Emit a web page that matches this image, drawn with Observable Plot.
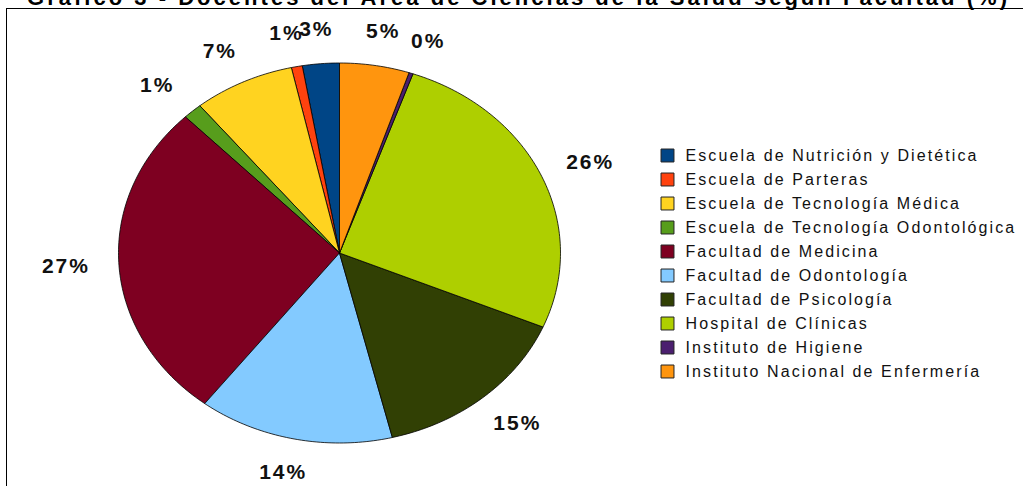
<!DOCTYPE html>
<html><head><meta charset="utf-8">
<script src="https://cdn.jsdelivr.net/npm/d3@7"></script>
<script src="https://cdn.jsdelivr.net/npm/@observablehq/plot@0.6"></script>
<style>
html,body{margin:0;padding:0;background:#fff;overflow:hidden;width:1023px;height:486px;}
#wrap{position:relative;width:1023px;height:486px;overflow:hidden;font-family:"Liberation Sans",Arial,sans-serif;}
#title{position:absolute;left:27px;top:-13.5px;font-size:22px;line-height:22px;font-weight:bold;white-space:nowrap;color:#000;}
#frame{position:absolute;left:6px;top:8px;width:2000px;height:1000px;border-left:1.5px solid #000;border-top:1.5px solid #000;}
#pie,#legend{position:absolute;top:0;}
#pie{left:0}
#legend{left:653px}
#pie text{letter-spacing:2px}
#legend text{letter-spacing:2.1px}
</style></head><body>
<div id="wrap"><div id="frame"></div><div id="title"></div><div id="pie"></div><div id="legend"></div></div>
<script>
const titleText = "Gráfico 3 - Docentes del Área de Ciencias de la Salud según Facultad (%)";
const categories = [
  "Escuela de Nutrición y Dietética",
  "Escuela de Parteras",
  "Escuela de Tecnología Médica",
  "Escuela de Tecnología Odontológica",
  "Facultad de Medicina",
  "Facultad de Odontología",
  "Facultad de Psicología",
  "Hospital de Clínicas",
  "Instituto de Higiene",
  "Instituto Nacional de Enfermería"
];
const values = [2.7, 0.8, 7.4, 1.4, 27.3, 14.3, 14.8, 26.0, 0.3, 5.1];
const colors = ["#004586","#ff420e","#ffd320","#579d1c","#7e0021","#83caff","#314004","#aecf00","#4b1f6f","#ff950e"];

// title
const t = document.getElementById("title");
t.textContent = titleText;
const tw = t.getBoundingClientRect().width;
t.style.letterSpacing = ((983 - tw) / titleText.length) + "px";

// slices (counterclockwise from 12 o'clock)
const total = d3.sum(values);
let cum = 0;
const slices = categories.map((c, i) => {
  const a0 = cum / total * 2 * Math.PI;
  cum += values[i];
  const a1 = cum / total * 2 * Math.PI;
  return {c, v: values[i], a0, a1, mid: (a0 + a1) / 2};
});
const pts = [];
for (const s of slices) {
  pts.push({c: s.c, x: 0, y: 0});
  const n = Math.max(2, Math.ceil((s.a1 - s.a0) / (Math.PI / 180)));
  for (let k = 0; k <= n; k++) {
    const a = s.a0 + (s.a1 - s.a0) * k / n;
    pts.push({c: s.c, x: -Math.sin(a), y: Math.cos(a)});
  }
  pts.push({c: s.c, x: 0, y: 0});
}

const colorScale = {type: "ordinal", domain: categories, range: colors};

const pie = Plot.plot({
  width: 1023, height: 486, margin: 0,
  style: {background: "transparent", fontFamily: "'Liberation Sans', Arial, sans-serif"},
  x: {domain: [-1, 1], range: [118, 560], axis: null},
  y: {domain: [-1, 1], range: [442.5, 62.5], axis: null},
  color: colorScale,
  marks: [
    Plot.line(pts, {x: "x", y: "y", z: "c", fill: "c", stroke: "#000", strokeWidth: 0.8, strokeLinejoin: "round", curve: "linear"}),
    Plot.text(slices, {
      x: d => -Math.sin(d.mid) * 1.24,
      y: d => Math.cos(d.mid) * 1.18,
      text: d => Math.round(d.v) + "%",
      fontSize: 21, fontWeight: "bold", fill: "#111"
    })
  ]
});
document.getElementById("pie").appendChild(pie);

const legend = Plot.plot({
  width: 370, height: 486, margin: 0,
  style: {background: "transparent", fontFamily: "'Liberation Sans', Arial, sans-serif"},
  y: {type: "point", domain: categories, range: [153, 372.3], padding: 0, axis: null},
  color: colorScale,
  marks: [
    Plot.dot(categories, {y: d => d, fill: d => d, symbol: "square", r: 7.3, stroke: "#222", strokeWidth: 1, frameAnchor: "left", dx: 14}),
    Plot.text(categories, {y: d => d, text: d => d, frameAnchor: "left", textAnchor: "start", dx: 32, fontSize: 16, fill: "#111"})
  ]
});
document.getElementById("legend").appendChild(legend);
</script>
</body></html>
